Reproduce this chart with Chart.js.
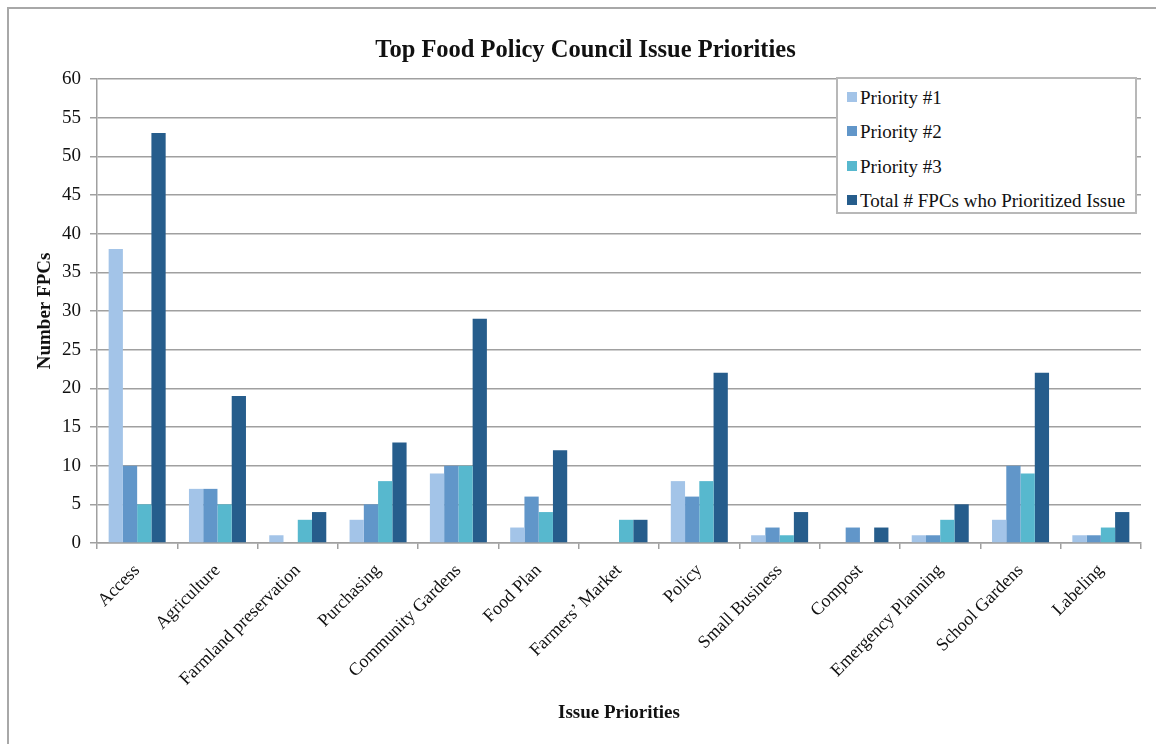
<!DOCTYPE html>
<html>
<head>
<meta charset="utf-8">
<script src="https://cdn.jsdelivr.net/npm/chart.js@4"></script>
<style>
  body { margin: 0; background: #fff; }
  #wrap { position: relative; width: 1156px; height: 744px; overflow: hidden; }
  #frame { position: absolute; left: 7px; top: 7px; width: 1200px; height: 800px; border: 2px solid #a8a8a8; box-sizing: border-box; }
  canvas { position: absolute; left: 0; top: 0; }
  #legend { position: absolute; left: 836px; top: 77px; width: 301px; height: 137px; background: #fff;
            border: 2px solid #b8b8b8; box-sizing: border-box; font-family: "Liberation Serif", serif; font-size: 19px; color: #111; padding: 2px 0 0 9px; }
  #legend div { height: 34.3px; line-height: 34.3px; white-space: nowrap; }
  #legend span { display: inline-block; width: 10px; height: 10px; margin-right: 3px; vertical-align: 2px; }
</style>
</head>
<body>
<div id="wrap">
  <div id="frame"></div>
  <canvas id="chart" width="1156" height="744"></canvas>
  <div id="legend"></div>
</div>
<script>
// Issue categories and counts
const categories = ['Access', 'Agriculture', 'Farmland preservation', 'Purchasing', 'Community Gardens',
  'Food Plan', 'Farmers\u2019 Market', 'Policy', 'Small Business', 'Compost', 'Emergency Planning',
  'School Gardens', 'Labeling'];
const priority1 = [38, 7, 1, 3, 9, 2, 0, 8, 1, 0, 1, 3, 1];
const priority2 = [10, 7, 0, 5, 10, 6, 0, 6, 2, 2, 1, 10, 1];
const priority3 = [5, 5, 3, 8, 10, 4, 3, 8, 1, 0, 3, 9, 2];
const totals = [53, 19, 4, 13, 29, 12, 3, 22, 4, 2, 5, 22, 4];
const yTicks = [0, 5, 10, 15, 20, 25, 30, 35, 40, 45, 50, 55, 60];

const seriesNames = ['Priority #1', 'Priority #2', 'Priority #3', 'Total # FPCs who Prioritized Issue'];
const seriesColors = ['#a3c4e8', '#6196c9', '#57b8ce', '#265d8c'];
const seriesData = [priority1, priority2, priority3, totals];

const serif = '"Liberation Serif", "Times New Roman", serif';
Chart.defaults.font.family = serif;
Chart.defaults.color = '#111';

new Chart(document.getElementById('chart').getContext('2d'), {
  type: 'bar',
  data: {
    labels: categories,
    datasets: seriesData.map((d, i) => ({
      label: seriesNames[i],
      data: d,
      backgroundColor: seriesColors[i],
      barPercentage: 1.0,
      categoryPercentage: 0.71
    }))
  },
  options: {
    responsive: false,
    animation: false,
    layout: { padding: { top: 22, right: 15, left: 30, bottom: 15 } },
    plugins: {
      legend: { display: false },
      tooltip: { enabled: false },
      title: {
        display: true,
        text: 'Top Food Policy Council Issue Priorities',
        font: { size: 24.5, weight: 'bold', family: serif },
        padding: { top: 14, bottom: 13.5 }
      }
    },
    scales: {
      x: {
        grid: { drawOnChartArea: false, drawTicks: true, tickLength: 6, color: '#a0a0a0', lineWidth: 1.5 },
        border: { color: '#a0a0a0', width: 1.5 },
        ticks: { font: { size: 18 }, maxRotation: 45, minRotation: 45, padding: 11 },
        title: { display: true, text: 'Issue Priorities', font: { size: 19, weight: 'bold' }, padding: { top: 8, bottom: 4.5 } },
        afterFit: axis => { axis.height = 186; }
      },
      y: {
        min: 0,
        max: 60,
        afterBuildTicks: axis => { axis.ticks = yTicks.map(v => ({ value: v })); },
        grid: { color: '#a0a0a0', lineWidth: 1.5, tickLength: 7 },
        border: { color: '#a0a0a0', width: 1.5 },
        ticks: { font: { size: 19 }, padding: 9 },
        title: { display: true, text: 'Number FPCs', font: { size: 19, weight: 'bold' }, padding: { top: 4, bottom: 4 } },
        afterFit: axis => { axis.width = 67; }
      }
    }
  }
});

// Legend box placed over the plot, as in the original figure
const legend = document.getElementById('legend');
seriesNames.forEach((name, i) => {
  const row = document.createElement('div');
  row.innerHTML = `<span style="background:${seriesColors[i]}"></span>${name}`;
  legend.appendChild(row);
});
</script>
</body>
</html>
